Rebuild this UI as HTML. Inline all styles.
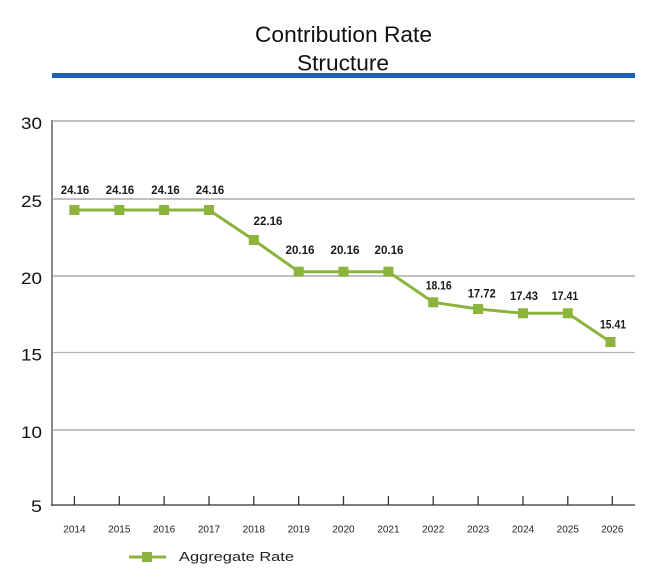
<!DOCTYPE html>
<html>
<head>
<meta charset="utf-8">
<style>
html,body{margin:0;padding:0;background:#fff;}
svg{display:block;}
text{font-family:"Liberation Sans",sans-serif;}
</style>
</head>
<body>
<svg width="668" height="582" viewBox="0 0 668 582" xmlns="http://www.w3.org/2000/svg">
<rect width="668" height="582" fill="#fff"/>
<!-- Title -->
<text x="343.5" y="42" font-size="22" fill="#111" text-anchor="middle" textLength="177" lengthAdjust="spacingAndGlyphs">Contribution Rate</text>
<text x="343" y="70.5" font-size="22" fill="#111" text-anchor="middle" textLength="92" lengthAdjust="spacingAndGlyphs">Structure</text>
<rect x="52" y="73" width="583" height="5" fill="#1e62ae"/>

<!-- gridlines -->
<g stroke="#9a9a9a" stroke-width="1.2">
<line x1="52" y1="121" x2="635" y2="121"/>
<line x1="52" y1="199" x2="635" y2="199"/>
<line x1="52" y1="276" x2="635" y2="276"/>
<line x1="52" y1="352.5" x2="635" y2="352.5" stroke="#b5b5b5"/>
<line x1="52" y1="430" x2="635" y2="430"/>
</g>
<line x1="52" y1="120" x2="52" y2="506" stroke="#888" stroke-width="2"/>
<line x1="51" y1="505" x2="635" y2="505" stroke="#555" stroke-width="1.6"/>
<g stroke="#333" stroke-width="1.3">
<line x1="74.4" y1="496" x2="74.4" y2="505"/>
<line x1="119.3" y1="496" x2="119.3" y2="505"/>
<line x1="164.1" y1="496" x2="164.1" y2="505"/>
<line x1="209" y1="496" x2="209" y2="505"/>
<line x1="253.8" y1="496" x2="253.8" y2="505"/>
<line x1="298.7" y1="496" x2="298.7" y2="505"/>
<line x1="343.5" y1="496" x2="343.5" y2="505"/>
<line x1="388.4" y1="496" x2="388.4" y2="505"/>
<line x1="433.2" y1="496" x2="433.2" y2="505"/>
<line x1="478.1" y1="496" x2="478.1" y2="505"/>
<line x1="523" y1="496" x2="523" y2="505"/>
<line x1="567.8" y1="496" x2="567.8" y2="505"/>
<line x1="612.3" y1="496" x2="612.3" y2="505"/>
</g>

<!-- y labels -->
<g font-size="17" fill="#111" text-anchor="end">
<text x="42" y="129" textLength="21" lengthAdjust="spacingAndGlyphs">30</text>
<text x="42" y="207" textLength="21" lengthAdjust="spacingAndGlyphs">25</text>
<text x="42" y="284" textLength="21" lengthAdjust="spacingAndGlyphs">20</text>
<text x="42" y="360.5" textLength="21" lengthAdjust="spacingAndGlyphs">15</text>
<text x="42" y="438" textLength="21" lengthAdjust="spacingAndGlyphs">10</text>
<text x="42" y="512" textLength="11" lengthAdjust="spacingAndGlyphs">5</text>
</g>

<!-- x labels -->
<g font-size="10" fill="#222" text-anchor="middle">
<text x="74.4" y="532.5">2014</text>
<text x="119.3" y="532.5">2015</text>
<text x="164.1" y="532.5">2016</text>
<text x="209" y="532.5">2017</text>
<text x="253.8" y="532.5">2018</text>
<text x="298.7" y="532.5">2019</text>
<text x="343.5" y="532.5">2020</text>
<text x="388.4" y="532.5">2021</text>
<text x="433.2" y="532.5">2022</text>
<text x="478.1" y="532.5">2023</text>
<text x="523" y="532.5">2024</text>
<text x="567.8" y="532.5">2025</text>
<text x="612.3" y="532.5">2026</text>
</g>

<!-- series -->
<polyline fill="none" stroke="#8cb33b" stroke-width="3" stroke-linejoin="round"
 points="74.4,210 119.3,210 164.1,210 209,210 253.8,240 298.7,271.7 343.5,271.7 388.4,271.7 433.2,302.3 478.1,309 523,313.3 567.8,313.3 610.5,342"/>
<g fill="#8cb33b">
<rect x="69.4" y="205" width="10" height="10"/>
<rect x="114.3" y="205" width="10" height="10"/>
<rect x="159.1" y="205" width="10" height="10"/>
<rect x="204" y="205" width="10" height="10"/>
<rect x="248.8" y="235" width="10" height="10"/>
<rect x="293.7" y="266.7" width="10" height="10"/>
<rect x="338.5" y="266.7" width="10" height="10"/>
<rect x="383.4" y="266.7" width="10" height="10"/>
<rect x="428.2" y="297.3" width="10" height="10"/>
<rect x="473.1" y="304" width="10" height="10"/>
<rect x="518" y="308.3" width="10" height="10"/>
<rect x="562.8" y="308.3" width="10" height="10"/>
<rect x="605.5" y="337" width="10" height="10"/>
</g>

<!-- data labels -->
<g font-size="12" font-weight="bold" fill="#1a1a1a" text-anchor="middle">
<text x="75" y="194" textLength="28.5" lengthAdjust="spacingAndGlyphs">24.16</text>
<text x="120" y="194" textLength="28.5" lengthAdjust="spacingAndGlyphs">24.16</text>
<text x="165.5" y="194" textLength="28.5" lengthAdjust="spacingAndGlyphs">24.16</text>
<text x="210" y="194" textLength="28.5" lengthAdjust="spacingAndGlyphs">24.16</text>
<text x="268" y="225" textLength="29" lengthAdjust="spacingAndGlyphs">22.16</text>
<text x="300" y="254" textLength="29" lengthAdjust="spacingAndGlyphs">20.16</text>
<text x="345" y="254" textLength="29" lengthAdjust="spacingAndGlyphs">20.16</text>
<text x="389" y="254" textLength="29" lengthAdjust="spacingAndGlyphs">20.16</text>
<text x="438.7" y="289.3" textLength="26" lengthAdjust="spacingAndGlyphs">18.16</text>
<text x="481.7" y="297.3" textLength="28" lengthAdjust="spacingAndGlyphs">17.72</text>
<text x="524" y="300" textLength="28" lengthAdjust="spacingAndGlyphs">17.43</text>
<text x="565" y="300" textLength="26.6" lengthAdjust="spacingAndGlyphs">17.41</text>
<text x="613" y="328.3" textLength="26" lengthAdjust="spacingAndGlyphs">15.41</text>
</g>

<!-- legend -->
<line x1="129" y1="557" x2="166" y2="557" stroke="#8cb33b" stroke-width="3"/>
<rect x="142" y="552" width="10" height="10" fill="#8cb33b"/>
<text x="179" y="561" font-size="12.5" fill="#222" textLength="115" lengthAdjust="spacingAndGlyphs">Aggregate Rate</text>
</svg>
</body>
</html>
